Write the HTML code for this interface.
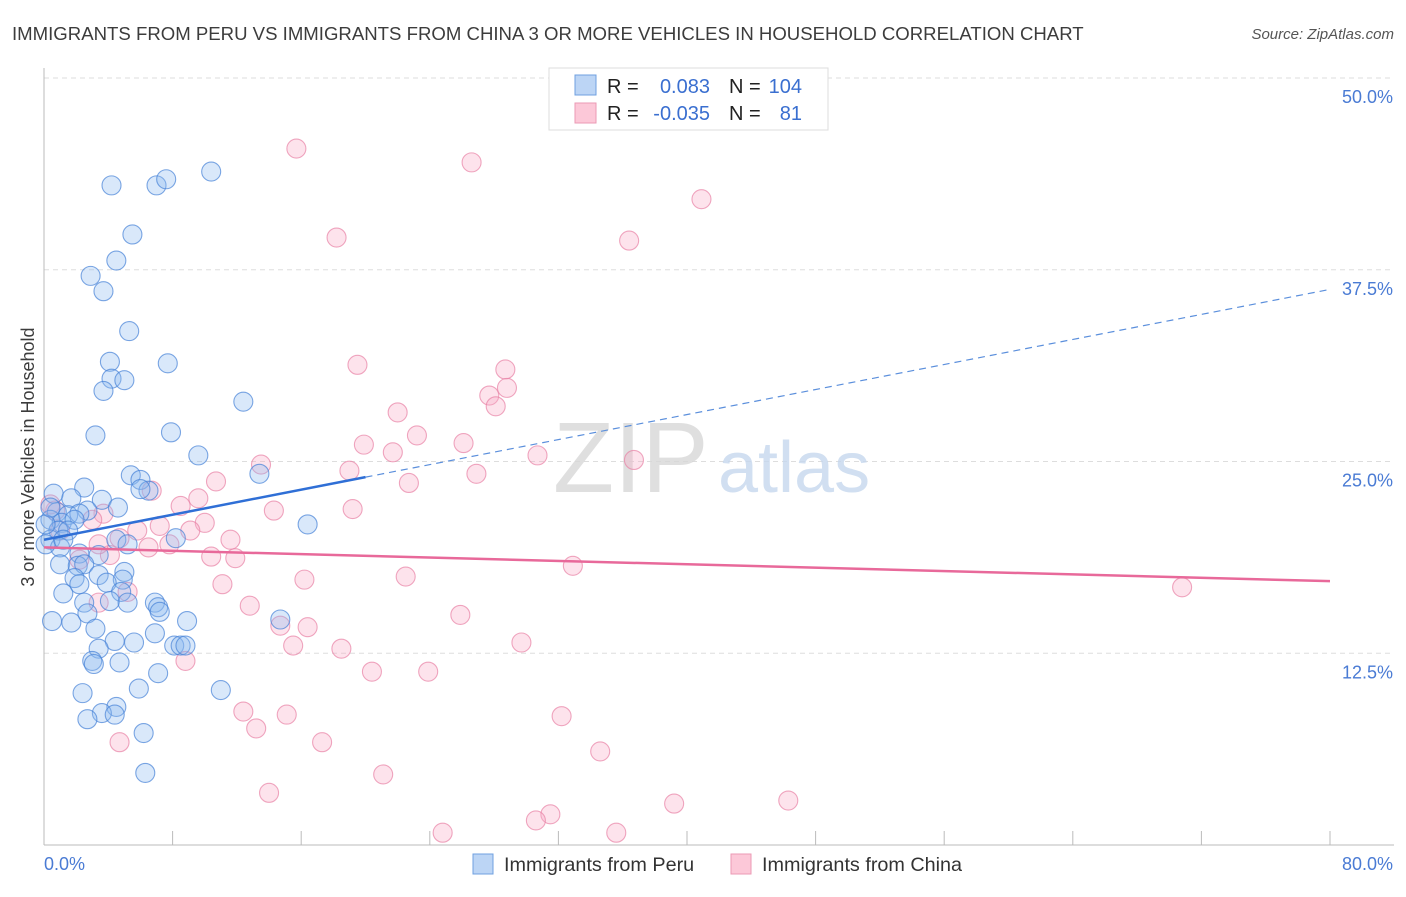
<!DOCTYPE html>
<html><head><meta charset="utf-8"><style>
body{margin:0;background:#fff;font-family:"Liberation Sans",sans-serif;}
svg text{font-family:"Liberation Sans",sans-serif;}
</style></head><body>
<svg id="chart" width="1406" height="892" viewBox="0 0 1406 892" xmlns="http://www.w3.org/2000/svg">
<text x="12" y="40" font-size="18.6" fill="#3c3c3c">IMMIGRANTS FROM PERU VS IMMIGRANTS FROM CHINA 3 OR MORE VEHICLES IN HOUSEHOLD CORRELATION CHART</text>
<text x="1394" y="39" font-size="15" fill="#555" font-style="italic" text-anchor="end">Source: ZipAtlas.com</text>
<g id="grid"></g>
<text x="553" y="492" font-size="100" fill="#d8d8d8" font-family="Liberation Serif" opacity="0.8">ZIP</text>
<text x="718" y="492" font-size="72" fill="#c6d8ee" opacity="0.8">atlas</text>
<g id="pts"></g>
<g id="trends"></g>
<text transform="translate(34,457) rotate(-90)" font-size="18" fill="#3c3c3c" text-anchor="middle">3 or more Vehicles in Household</text>
<g>
<rect x="549" y="68" width="279" height="62" fill="#fff" stroke="#ddd"/>
<rect x="575" y="75" width="21" height="20" fill="#bcd5f5" stroke="#6fa0e0"/>
<rect x="575" y="103" width="21" height="20" fill="#fcc8d8" stroke="#eb9ab4"/>
<text x="607" y="93" font-size="20" fill="#222">R =</text>
<text x="710" y="93" font-size="20" fill="#3a6fd0" text-anchor="end">0.083</text>
<text x="729" y="93" font-size="20" fill="#222">N =</text>
<text x="802" y="93" font-size="20" fill="#3a6fd0" text-anchor="end">104</text>
<text x="607" y="120" font-size="20" fill="#222">R =</text>
<text x="710" y="120" font-size="20" fill="#3a6fd0" text-anchor="end">-0.035</text>
<text x="729" y="120" font-size="20" fill="#222">N =</text>
<text x="802" y="120" font-size="20" fill="#3a6fd0" text-anchor="end">81</text>
</g>
<g>
<rect x="473" y="854" width="20" height="20" fill="#bcd5f5" stroke="#6fa0e0"/>
<text x="504" y="871" font-size="19.8" fill="#333">Immigrants from Peru</text>
<rect x="731" y="854" width="20" height="20" fill="#fcc8d8" stroke="#eb9ab4"/>
<text x="762" y="871" font-size="19.8" fill="#333">Immigrants from China</text>
</g>
</svg>
<script>
const yTicks=[12.5,25,37.5,50];
const yTickLabels=["12.5%","25.0%","37.5%","50.0%"];
const xTickLabels=["0.0%","80.0%"];
const peru=[[4.2,43.0],[7.0,43.0],[7.6,43.4],[10.4,43.9],[5.5,39.8],[4.5,38.1],[2.9,37.1],[3.7,36.1],[5.3,33.5],[4.1,31.5],[7.7,31.4],[4.2,30.4],[5.0,30.3],[3.7,29.6],[12.4,28.9],[3.2,26.7],[7.9,26.9],[9.6,25.4],[5.4,24.1],[13.4,24.2],[6.0,23.8],[2.5,23.3],[6.5,23.1],[6.0,23.2],[0.6,22.9],[1.7,22.6],[3.6,22.5],[2.7,21.8],[4.6,22.0],[0.8,21.7],[1.5,21.5],[2.2,21.6],[0.4,21.2],[1.1,21.0],[1.9,21.2],[0.9,20.5],[1.5,20.5],[0.4,19.9],[1.0,19.4],[4.5,19.9],[5.2,19.6],[8.2,20.0],[16.4,20.9],[2.2,19.0],[3.4,18.9],[1.0,18.3],[2.1,18.2],[2.5,18.3],[1.9,17.4],[3.4,17.6],[5.0,17.8],[4.9,17.3],[2.2,17.0],[3.9,17.1],[1.2,16.4],[4.8,16.5],[2.5,15.8],[4.1,15.9],[5.2,15.8],[6.9,15.8],[7.1,15.5],[7.2,15.2],[0.5,14.6],[1.7,14.5],[2.7,15.1],[8.9,14.6],[14.7,14.7],[3.2,14.1],[6.9,13.8],[4.4,13.3],[5.6,13.2],[8.1,13.0],[8.5,13.0],[8.8,13.0],[3.4,12.8],[3.0,12.0],[3.1,11.8],[4.7,11.9],[7.1,11.2],[2.4,9.9],[5.9,10.2],[11.0,10.1],[4.5,9.0],[3.6,8.6],[4.4,8.5],[2.7,8.2],[6.2,7.3],[6.3,4.7],[0.1,19.6],[0.1,20.9],[0.4,22.0],[1.2,19.9]];
const china=[[15.7,45.4],[26.6,44.5],[40.9,42.1],[18.2,39.6],[36.4,39.4],[19.5,31.3],[28.7,31.0],[27.7,29.3],[28.8,29.8],[28.1,28.6],[22.0,28.2],[23.2,26.7],[19.9,26.1],[26.1,26.2],[21.7,25.6],[30.7,25.4],[36.7,25.1],[13.5,24.8],[19.0,24.4],[26.9,24.2],[22.7,23.6],[10.7,23.7],[6.7,23.1],[9.6,22.6],[8.5,22.1],[14.3,21.8],[19.2,21.9],[3.7,21.6],[3.0,21.2],[10.0,21.0],[5.8,20.5],[7.2,20.8],[9.1,20.5],[11.6,19.9],[4.7,20.0],[7.8,19.6],[6.5,19.4],[4.1,18.9],[10.4,18.8],[11.9,18.7],[0.7,21.8],[1.0,20.5],[0.4,22.2],[32.9,18.2],[16.2,17.3],[22.5,17.5],[11.1,17.0],[5.2,16.5],[3.4,15.8],[70.8,16.8],[12.8,15.6],[25.9,15.0],[14.7,14.3],[16.4,14.2],[15.5,13.0],[29.7,13.2],[18.5,12.8],[8.8,12.0],[20.4,11.3],[23.9,11.3],[12.4,8.7],[15.1,8.5],[32.2,8.4],[13.2,7.6],[17.3,6.7],[4.7,6.7],[34.6,6.1],[21.1,4.6],[14.0,3.4],[39.2,2.7],[46.3,2.9],[31.5,2.0],[30.6,1.6],[24.8,0.8],[35.6,0.8],[3.4,19.6],[2.2,18.6]];
const peruTrend=[19.9,0.204];
const chinaTrend=[19.4,-0.0275];

const NS="http://www.w3.org/2000/svg";
const X0=44,X1=1330,Y0=845,Y50=78;
const sx=v=>X0+(X1-X0)*v/80;
const sy=v=>Y0-(Y0-Y50)*v/50;
function mk(tag,attrs,parent){const e=document.createElementNS(NS,tag);for(const k in attrs)e.setAttribute(k,attrs[k]);parent.appendChild(e);return e;}
const grid=document.getElementById('grid');
yTicks.forEach((t,i)=>{
 const l=mk('line',{x1:X0,x2:1394,y1:sy(t),y2:sy(t),stroke:'#ddd','stroke-dasharray':'5,4'},grid);
 
 
 const tx=mk('text',{x:1393,y:sy(t)+25,'font-size':18,fill:'#4a7bd4','text-anchor':'end'},grid);
 tx.textContent=yTickLabels[i];
 
 
});
const ax=mk('line',{x1:X0,x2:X0,y1:68,y2:Y0,stroke:'#bbb'},grid);


const bx=mk('line',{x1:X0,x2:1394,y1:Y0,y2:Y0,stroke:'#bbb'},grid);


for(let i=0;i<=10;i++){
 const t=mk('line',{x1:sx(i*8),x2:sx(i*8),y1:Y0,y2:Y0-14,stroke:'#bbb'},grid);
 
 
}
[[0,'start',44],[80,'end',1393]].forEach((d,i)=>{
 const tx=mk('text',{x:d[2],y:870,'font-size':18,fill:'#4a7bd4','text-anchor':d[1]},grid);
 tx.textContent=xTickLabels[i];
 
 
});
const pts=document.getElementById('pts');
china.forEach(p=>{
 const c=mk('circle',{cx:sx(p[0]),cy:sy(p[1]),r:9.5,fill:'rgba(248,170,196,0.33)',stroke:'rgba(232,130,165,0.7)','stroke-width':1.1},pts);
 
 
});
peru.forEach(p=>{
 const c=mk('circle',{cx:sx(p[0]),cy:sy(p[1]),r:9.5,fill:'rgba(140,185,240,0.33)',stroke:'rgba(70,130,215,0.7)','stroke-width':1.1},pts);
 
 
});
const tr=document.getElementById('trends');
const f=(t,x)=>t[0]+t[1]*x;
let l1=mk('line',{x1:sx(0),y1:sy(f(peruTrend,0)),x2:sx(20),y2:sy(f(peruTrend,20)),stroke:'#2f6fd6','stroke-width':2.5},tr);


let l2=mk('line',{x1:sx(20),y1:sy(f(peruTrend,20)),x2:sx(80),y2:sy(f(peruTrend,80)),stroke:'#5b8fdc','stroke-width':1.2,'stroke-dasharray':'7,5'},tr);


let l3=mk('line',{x1:sx(0),y1:sy(f(chinaTrend,0)),x2:sx(80),y2:sy(f(chinaTrend,80)),stroke:'#e8699a','stroke-width':2.5},tr);


</script>
</body></html>
